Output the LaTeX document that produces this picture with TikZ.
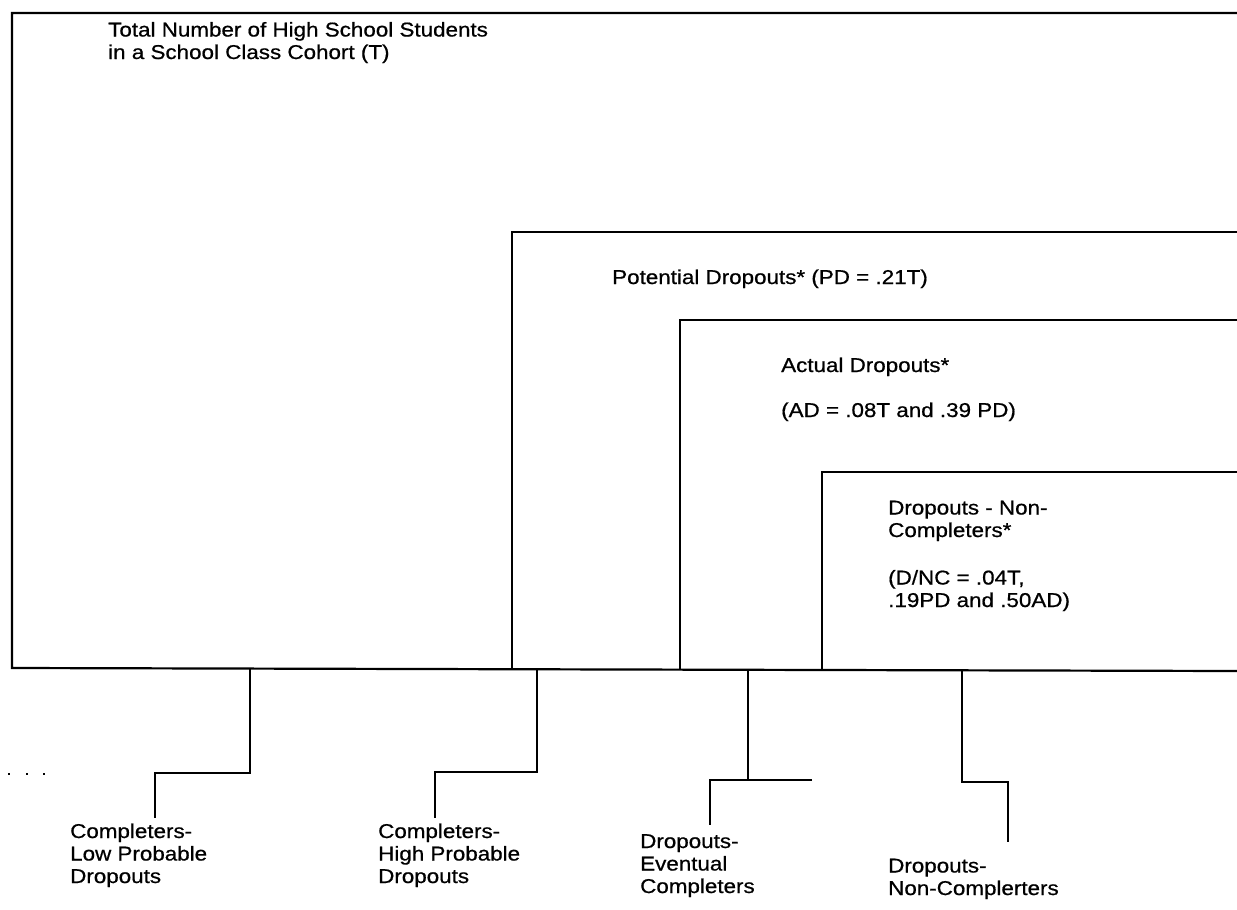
\documentclass[tikz,border=0pt]{standalone}
\usepackage{fontspec}
\setmainfont[FakeStretch=1.12,FakeBold=0.7]{Liberation Sans}
\begin{document}
\begin{tikzpicture}[x=1pt,y=-1pt,
  frame/.style={line width=2.2pt,line cap=rect},
  conn/.style={line width=2.2pt},
  lbl/.style={anchor=base west,inner sep=0pt,align=left,font=\fontsize{20}{22.5}\selectfont},
  dotmark/.style={rectangle,fill=black,inner sep=0pt,minimum size=2.8pt}]
\useasboundingbox (0,0) rectangle (1237,910);
% frames
\coordinate (T1) at (12,13);
\coordinate (B1) at (12,668);
\coordinate (P1) at (512,232);
\coordinate (P2) at (512,668);
\coordinate (A1) at (680,320);
\coordinate (A2) at (680,668);
\coordinate (N1) at (822,472);
\coordinate (N2) at (822,668);
\coordinate (RB) at (1237,671);
\draw[frame] (1237,13) -- (T1) -- (B1) -- (RB);
\draw[frame] (1237,232) -- (P1) -- (P2);
\draw[frame] (1237,320) -- (A1) -- (A2);
\draw[frame] (1237,472) -- (N1) -- (N2);
% texts (base = last line)
\node[lbl] (tot) at (108,59) {Total Number of High School Students\\in a School Class Cohort (T)};
\node[lbl] (pd) at (612,284) {Potential Dropouts* (PD = .21T)};
\node[lbl] (ad) at (781,372) {Actual Dropouts*};
\node[lbl] (adv) at (781,417) {(AD = .08T and .39 PD)};
\node[lbl] (nc) at (888,537) {Dropouts - Non-\\Completers*};
\node[lbl] (ncv) at (888,607) {(D/NC = .04T,\\.19PD and .50AD)};
% bottom labels
\node[lbl] (c1) at (70,883) {Completers-\\Low Probable\\Dropouts};
\node[lbl] (c2) at (378,883) {Completers-\\High Probable\\Dropouts};
\node[lbl] (c3) at (640,893) {Dropouts-\\Eventual\\Completers};
\node[lbl] (c4) at (888,895) {Dropouts-\\Non-Complerters};
% connectors
\coordinate (s1) at (250,668);
\coordinate (e1) at (155,818);
\draw[conn] (s1) |- (155,773) -- (e1);
\coordinate (s2) at (537,669);
\coordinate (e2) at (435,818);
\draw[conn] (s2) |- (435,772) -- (e2);
\coordinate (s3) at (748,669);
\coordinate (e3) at (710,825);
\coordinate (x3) at (812,780);
\draw[conn] (s3) -- (748,780);
\draw[conn] (x3) -- (710,780) -- (e3);
\coordinate (s4) at (962,670);
\coordinate (e4) at (1008,842);
\draw[conn] (s4) |- (1008,782) -- (e4);
% dots
\node[dotmark] (d1) at (9,774) {};
\node[dotmark] (d2) at (27,774) {};
\node[dotmark] (d3) at (44,774) {};
\end{tikzpicture}
\end{document}
